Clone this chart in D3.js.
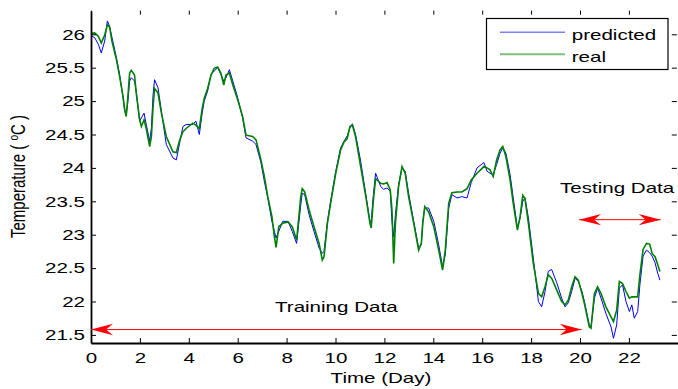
<!DOCTYPE html>
<html>
<head>
<meta charset="utf-8">
<script src="https://cdn.jsdelivr.net/npm/d3@7"></script>
<style>
  body { margin: 0; background: #fff; }
  text { font-family: "Liberation Sans", Arial, sans-serif; fill: #000; }
</style>
</head>
<body>
<svg id="chart" width="678" height="389"></svg>
<script>
// ---- data (time in days, temperature in degC) ----
var days = [0.00, 0.15, 0.30, 0.42, 0.56, 0.67, 0.76, 0.86, 1.04, 1.17, 1.31, 1.38, 1.44, 1.51, 1.58, 1.65, 1.78, 1.85, 1.99, 2.06,
  2.17, 2.26, 2.40, 2.47, 2.54, 2.60, 2.74, 2.88, 3.08, 3.35, 3.49, 3.63, 3.76, 3.89, 4.16, 4.29, 4.43, 4.54, 4.63, 4.77,
  4.91, 5.04, 5.18, 5.31, 5.43, 5.52, 5.66, 5.80, 6.00, 6.20, 6.34, 6.61, 6.75, 6.95, 7.09, 7.23, 7.40, 7.50, 7.57, 7.68,
  7.84, 8.06, 8.23, 8.41, 8.58, 8.64, 8.74, 8.92, 9.12, 9.33, 9.46, 9.53, 9.67, 9.80, 10.01, 10.21, 10.35, 10.48, 10.59, 10.69,
  10.82, 11.03, 11.24, 11.41, 11.46, 11.55, 11.64, 11.85, 11.97, 12.11, 12.24, 12.31, 12.38, 12.45, 12.58, 12.72, 12.85, 12.99, 13.20, 13.40,
  13.51, 13.57, 13.65, 13.81, 14.02, 14.22, 14.38, 14.49, 14.63, 14.76, 14.97, 15.17, 15.38, 15.55, 15.79, 16.07, 16.20, 16.32, 16.45, 16.59,
  16.73, 16.84, 16.97, 17.14, 17.27, 17.44, 17.55, 17.66, 17.75, 17.89, 18.09, 18.30, 18.43, 18.57, 18.70, 18.84, 19.05, 19.25, 19.39, 19.52,
  19.66, 19.80, 19.93, 20.08, 20.18, 20.38, 20.45, 20.59, 20.72, 20.86, 21.06, 21.27, 21.37, 21.50, 21.61, 21.74, 21.88, 22.02, 22.12, 22.22,
  22.36, 22.45, 22.58, 22.72, 22.85, 22.95, 23.07, 23.18, 23.27];

var real = [26.01, 26.02, 25.97, 25.87, 25.99, 26.14, 26.11, 25.89, 25.62, 25.37, 25.07, 24.87, 24.77, 25.07, 25.42, 25.46, 25.39, 25.12, 24.72, 24.62,
  24.72, 24.59, 24.32, 24.47, 24.92, 25.19, 25.12, 24.82, 24.47, 24.24, 24.23, 24.42, 24.54, 24.59, 24.67, 24.64, 24.59, 24.87, 25.04, 25.19,
  25.39, 25.49, 25.51, 25.42, 25.24, 25.39, 25.42, 25.24, 25.02, 24.77, 24.49, 24.47, 24.42, 24.12, 23.87, 23.57, 23.27, 22.97, 22.81, 23.12,
  23.17, 23.19, 23.12, 22.92, 23.57, 23.69, 23.64, 23.37, 23.12, 22.87, 22.62, 22.67, 23.17, 23.47, 23.92, 24.27, 24.39, 24.44, 24.62, 24.64,
  24.47, 24.02, 23.57, 23.17, 23.10, 23.52, 23.84, 23.77, 23.76, 23.78, 23.67, 23.37, 22.57, 23.17, 23.72, 24.02, 23.92, 23.57, 23.17, 22.77,
  22.87, 23.17, 23.42, 23.34, 23.12, 22.77, 22.47, 22.77, 23.47, 23.63, 23.64, 23.64, 23.69, 23.82, 23.92, 24.02, 24.00, 23.97, 23.87, 24.12,
  24.27, 24.32, 24.17, 23.82, 23.47, 23.07, 23.27, 23.59, 23.54, 23.17, 22.57, 22.12, 22.07, 22.22, 22.40, 22.35, 22.17, 22.00, 21.95, 22.02,
  22.22, 22.37, 22.32, 22.12, 21.97, 21.62, 21.60, 22.12, 22.22, 22.12, 21.92, 21.77, 21.70, 21.87, 22.30, 22.27, 22.15, 22.05, 22.07, 22.07,
  22.07, 22.40, 22.78, 22.87, 22.86, 22.72, 22.67, 22.55, 22.45];

var predicted = [25.98, 25.95, 25.85, 25.72, 25.90, 26.20, 26.12, 25.95, 25.65, 25.40, 25.05, 24.85, 24.80, 25.00, 25.30, 25.35, 25.30, 25.15, 24.70, 24.75,
  24.82, 24.65, 24.40, 24.60, 25.10, 25.32, 25.20, 24.85, 24.35, 24.15, 24.12, 24.38, 24.62, 24.65, 24.65, 24.70, 24.50, 24.80, 25.00, 25.15,
  25.40, 25.45, 25.50, 25.40, 25.30, 25.35, 25.47, 25.30, 25.05, 24.75, 24.45, 24.40, 24.35, 24.08, 23.80, 23.55, 23.20, 23.05, 22.95, 23.05,
  23.20, 23.20, 23.05, 22.87, 23.45, 23.62, 23.60, 23.30, 23.05, 22.80, 22.72, 22.75, 23.20, 23.50, 23.95, 24.30, 24.40, 24.48, 24.60, 24.66,
  24.50, 24.10, 23.60, 23.20, 23.20, 23.60, 23.92, 23.72, 23.68, 23.70, 23.65, 23.20, 22.97, 23.30, 23.75, 24.00, 23.95, 23.62, 23.20, 22.80,
  22.85, 23.20, 23.40, 23.40, 23.20, 22.85, 22.52, 22.70, 23.40, 23.60, 23.55, 23.57, 23.55, 23.78, 24.00, 24.08, 23.95, 23.92, 23.90, 24.05,
  24.22, 24.30, 24.22, 23.90, 23.55, 23.10, 23.25, 23.50, 23.55, 23.25, 22.65, 22.00, 21.92, 22.15, 22.45, 22.48, 22.28, 22.05, 21.92, 21.98,
  22.15, 22.35, 22.30, 22.15, 22.00, 21.65, 21.62, 22.05, 22.20, 22.05, 21.82, 21.62, 21.45, 21.65, 22.20, 22.25, 22.00, 21.85, 21.95, 21.75,
  21.85, 22.25, 22.68, 22.77, 22.73, 22.68, 22.58, 22.42, 22.32];

var seriesNames = ["predicted", "real"];
var seriesColors = ["#0000ff", "#008000"];
var xTicks = [0, 2, 4, 6, 8, 10, 12, 14, 16, 18, 20, 22];
var yTicks = [21.5, 22, 22.5, 23, 23.5, 24, 24.5, 25, 25.5, 26];

// annotation arrows (data units)
var trainingSpan = [0, 20.07], trainingLevel = 21.58;
var testingSpan = [19.96, 23.3], testingLevel = 23.225;

// ---- layout ----
var svg = d3.select("#chart");
var plotLeft = 91, plotRight = 677.8, plotTop = 10.7, plotBottom = 343;
var sx = 1.37;          // the reference is stretched horizontally, text too
var fontSize = 15;

var x = d3.scaleLinear().domain([0, 24]).range([plotLeft, plotRight]);
var y = d3.scaleLinear().domain([21.379, 26.353]).range([plotBottom, plotTop]);

// stretched text helper
function label(px, py, str, anchor) {
  return svg.append("g")
      .attr("transform", "translate(" + px + "," + py + ") scale(" + sx + ",1)")
    .append("text")
      .attr("text-anchor", anchor || "start")
      .attr("font-size", fontSize)
      .text(str);
}

// ---- series ----
var line = function(vals) {
  return d3.line()
      .x(function(d, i) { return x(days[i]); })
      .y(function(d) { return y(d); })(vals);
};

svg.append("path")
    .attr("d", line(predicted))
    .attr("fill", "none")
    .attr("stroke", seriesColors[0])
    .attr("stroke-width", 1);

svg.append("path")
    .attr("d", line(real))
    .attr("fill", "none")
    .attr("stroke", seriesColors[1])
    .attr("stroke-width", 1.6);

// ---- axes ----
var xAxis = svg.append("g")
    .attr("transform", "translate(0," + plotBottom + ")")
    .call(d3.axisBottom(x).tickValues(xTicks).tickSizeInner(-5).tickSizeOuter(0).tickPadding(9));

var yAxis = svg.append("g")
    .attr("transform", "translate(" + plotLeft + ",0)")
    .call(d3.axisLeft(y).tickValues(yTicks).tickSizeInner(-5).tickSizeOuter(0).tickPadding(6)
      .tickFormat(d3.format("")));

svg.append("g")
    .attr("transform", "translate(0," + plotTop + ")")
    .call(d3.axisTop(x).tickValues(xTicks).tickSizeInner(-4).tickSizeOuter(0).tickFormat(""))
    .call(function(g) { g.select(".domain").remove(); });

svg.append("g")
    .attr("transform", "translate(" + (plotRight - 1) + ",0)")
    .call(d3.axisRight(y).tickValues(yTicks).tickSizeInner(-5).tickSizeOuter(0).tickFormat(""))
    .call(function(g) { g.select(".domain").remove(); });

svg.selectAll(".domain").attr("stroke", "#000").attr("stroke-width", 1.8);
svg.selectAll(".tick line").attr("stroke", "#000");
svg.selectAll(".tick text")
    .attr("font-size", fontSize)
    .attr("font-family", "Liberation Sans, Arial, sans-serif")
    .attr("fill", "#000");

xAxis.selectAll(".tick text").attr("transform", "scale(" + sx + ",1)");
yAxis.selectAll(".tick text")
    .attr("x", -6 / sx)
    .attr("transform", "scale(" + sx + ",1)");

// ---- axis titles ----
label(381, 382.7, "Time (Day)", "middle");

var yl = svg.append("g")
    .attr("transform", "translate(25,176.5) scale(" + sx + ",1) rotate(-90)")
  .append("text")
    .attr("text-anchor", "middle")
    .attr("font-size", fontSize);
yl.append("tspan").text("Temperature ( ");
yl.append("tspan").attr("font-size", 10).attr("dy", -5).text("o");
yl.append("tspan").attr("dy", 5).text("C )");

// ---- annotation arrows ----
function arrowHead(tipX, tipY, dir) {
  var L = 22, W = 5.7, n = 15;
  var pts = [[tipX, tipY], [tipX - dir * L, tipY - W], [tipX - dir * n, tipY], [tipX - dir * L, tipY + W]];
  svg.append("path")
      .attr("d", "M" + pts.join("L") + "Z")
      .attr("fill", "#ff0000");
}
function doubleArrow(span, level) {
  var x0 = x(span[0]), x1 = x(span[1]), yy = y(level);
  svg.append("line")
      .attr("x1", x0).attr("x2", x1)
      .attr("y1", yy).attr("y2", yy)
      .attr("stroke", "#ff0000")
      .attr("stroke-width", 1);
  arrowHead(x0, yy, -1);
  arrowHead(x1, yy, 1);
}
doubleArrow(trainingSpan, trainingLevel);
doubleArrow(testingSpan, testingLevel);

label(275, 311.7, "Training Data");
label(560, 193, "Testing Data");

// ---- legend ----
svg.append("rect")
    .attr("x", 486.5).attr("y", 18.5)
    .attr("width", 181.5).attr("height", 51)
    .attr("fill", "#fff")
    .attr("stroke", "#000")
    .attr("stroke-width", 1.2);

seriesNames.forEach(function(name, i) {
  var ly = 32.3 + i * 22;
  svg.append("line")
      .attr("x1", 500).attr("x2", 565)
      .attr("y1", ly).attr("y2", ly)
      .attr("stroke", seriesColors[i])
      .attr("stroke-opacity", 0.5)
      .attr("stroke-width", i === 0 ? 1.5 : 2);
  label(571.7, ly + 7.8, name);
});
</script>
</body>
</html>
